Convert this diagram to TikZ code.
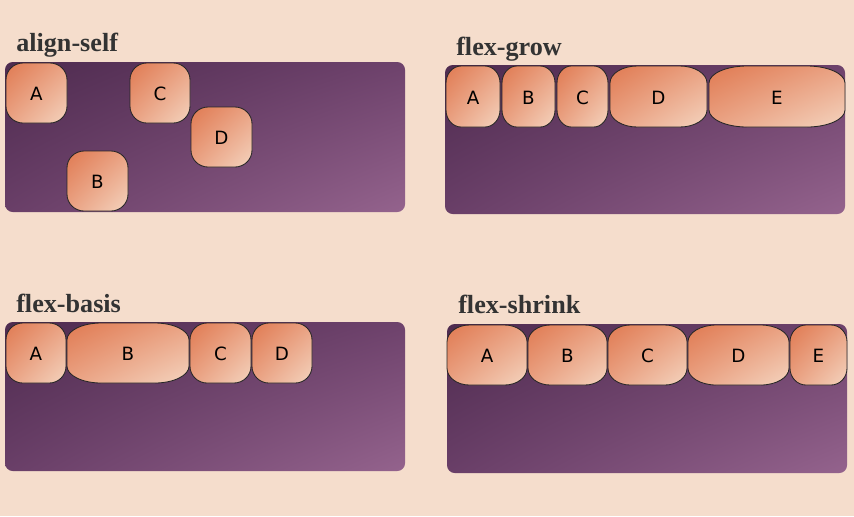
\documentclass[tikz,border=0pt]{standalone}
\usepackage{fontspec}
\setmainfont{Liberation Serif}
\newfontfamily\boxfont{DejaVu Sans}
\usepackage{tikz}
\usetikzlibrary{positioning,shadings}
\definecolor{FLpeach}{RGB}{245,221,204}
\definecolor{FLink}{RGB}{51,51,51}
\definecolor{FLdark}{RGB}{78,43,79}
\definecolor{FLplum}{RGB}{110,66,108}
\definecolor{FLlilac}{RGB}{148,99,141}
\definecolor{FLorange}{RGB}{224,122,82}
\definecolor{FLsalmon}{RGB}{234,162,131}
\definecolor{FLcream}{RGB}{244,212,191}
\tikzset{
  panel/.style={upper left=FLdark,upper right=FLplum,lower left=FLplum!85!FLdark,
                lower right=FLlilac,rounded corners=5.5pt},
  item/.style={draw=black!85,line width=0.6pt,upper left=FLorange,upper right=FLsalmon,
               lower left=FLsalmon,lower right=FLcream},
  itemlabel/.style={font=\boxfont\fontsize{13}{15}\selectfont,text=black,inner sep=0pt},
  title/.style={anchor=base west,inner sep=0pt,text=FLink,
                font=\fontsize{18.6}{20}\selectfont\bfseries},
}
% one flex item: name, x1, y1, x2, y2, label
\newcommand{\flexitem}[6]{%
  \pgfmathsetmacro{\itemrx}{0.28*(#4-#2)}%
  \pgfmathsetmacro{\itemry}{0.28*(#5-#3)}%
  \shadedraw[item] (#2+\itemrx,#3) -- (#4-\itemrx,#3)
    arc[start angle=-90,end angle=0,x radius=\itemrx,y radius=\itemry]
    -- (#4,#5-\itemry)
    arc[start angle=0,end angle=90,x radius=\itemrx,y radius=\itemry]
    -- (#2+\itemrx,#5)
    arc[start angle=90,end angle=180,x radius=\itemrx,y radius=\itemry]
    -- (#2,#3+\itemry)
    arc[start angle=180,end angle=270,x radius=\itemrx,y radius=\itemry] -- cycle;
  \node[itemlabel] (#1) at ({(#2+#4)/2},{(#3+#5)/2+1}) {#6};
}

\begin{document}
\begin{tikzpicture}[x=0.025cm,y=-0.025cm]
  \useasboundingbox[fill=FLpeach] (0,0) rectangle (854,516);
  % align-self
  \node[title] (alignself) at (16,51) {align-self};
  \shade[panel] (5,62) rectangle (405,212);
  \flexitem{asA}{6}{63}{67}{123}{A}
  \flexitem{asC}{130}{63}{190}{123}{C}
  \flexitem{asD}{191}{107}{252}{167}{D}
  \flexitem{asB}{67}{151}{128}{211}{B}
  % flex-grow
  \node[title] (flexgrow) at (456,55) {flex-grow};
  \shade[panel] (445,65) rectangle (845,214);
  \flexitem{fgA}{446}{66}{500}{127}{A}
  \flexitem{fgB}{502}{66}{555}{127}{B}
  \flexitem{fgC}{557}{66}{608}{127}{C}
  \flexitem{fgD}{610}{66}{707}{127}{D}
  \flexitem{fgE}{709}{66}{845}{127}{E}
  % flex-basis
  \node[title] (flexbasis) at (16,312) {flex-basis};
  \shade[panel] (5,322) rectangle (405,471);
  \flexitem{fbA}{6}{323}{66}{383}{A}
  \flexitem{fbB}{67}{323}{189}{383}{B}
  \flexitem{fbC}{190}{323}{251}{383}{C}
  \flexitem{fbD}{252}{323}{312}{383}{D}
  % flex-shrink
  \node[title] (flexshrink) at (458,313) {flex-shrink};
  \shade[panel] (447,324) rectangle (847,473);
  \flexitem{fsA}{447}{325}{527}{385}{A}
  \flexitem{fsB}{528}{325}{607}{385}{B}
  \flexitem{fsC}{608}{325}{687}{385}{C}
  \flexitem{fsD}{688}{325}{789}{385}{D}
  \flexitem{fsE}{790}{325}{847}{385}{E}
\end{tikzpicture}
\end{document}
